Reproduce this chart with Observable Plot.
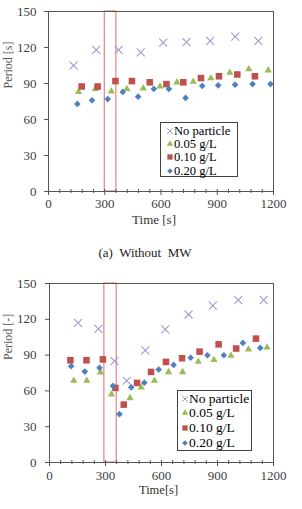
<!DOCTYPE html>
<html>
<head>
<meta charset="utf-8">
<script src="https://cdn.jsdelivr.net/npm/d3@7"></script>
<script src="https://cdn.jsdelivr.net/npm/@observablehq/plot@0.6"></script>
<style>
  body { margin: 0; background: #fff; }
  #fig { position: relative; width: 302px; height: 509px; font-family: "Liberation Serif", "Times New Roman", serif; }
  .panel { position: absolute; left: 0; }
  .caption { position: absolute; left: 0; width: 302px; font-size: 13px; line-height: 16px; color: #222; white-space: pre; }
  .legend { position: absolute; box-sizing: border-box; border: 1px solid #404040; background: #fff; }
  .legend .row { position: absolute; line-height: 12px; color: #000; white-space: nowrap; }
  .legend svg { position: absolute; overflow: visible; }
</style>
</head>
<body>
<div id="fig"></div>
<script>
// Series shared by both panels
const seriesNames = ["No particle", "0.05 g/L", "0.10 g/L", "0.20 g/L"];
const seriesColors = ["#9d9ad2", "#9bbb59", "#c0504d", "#4f81bd"];
const seriesSymbols = ["times", "triangle", "square", "diamond2"];

// Axes
const timeDomain = [0, 1200];
const periodDomain = [0, 150];
const timeTicks = [0, 300, 600, 900, 1200];
const timeMinorTicks = [60, 120, 180, 240, 360, 420, 480, 540, 660, 720, 780, 840, 960, 1020, 1080, 1140];
const periodTicks = [0, 30, 60, 90, 120, 150];

// (a) Without MW
const aTimeNone = [134, 255, 374, 492, 612, 736, 862, 996, 1119];
const aPeriodNone = [105, 118, 118, 116, 124, 124.5, 125.5, 129, 125.5];
const aTime005 = [160, 250, 335, 418, 505, 595, 685, 772, 866, 967, 1068, 1172];
const aPeriod005 = [83, 85.5, 83.5, 85.5, 86, 87.5, 91, 91.5, 94.5, 99, 102, 101];
const aTime010 = [177, 262, 357, 445, 540, 629, 719, 813, 909, 1007, 1101];
const aPeriod010 = [87.5, 87.5, 92, 92, 91, 89.5, 91, 94.5, 96, 97.5, 96];
const aTime020 = [154, 232, 316, 396, 478, 562, 642, 731, 820, 905, 995, 1088, 1184];
const aPeriod020 = [73, 76, 77, 83, 79, 85.5, 85.5, 78, 88, 88.5, 89, 89.5, 89.5];
const aWindow = [300, 362];

// (b) With MW
const bTimeNone = [153, 262, 348, 414, 513, 620, 745, 875, 1011, 1147];
const bPeriodNone = [117, 112, 85, 68.5, 94, 111.5, 124, 131.5, 136, 136];
const bTime005 = [130, 200, 273, 332, 431, 491, 562, 638, 713, 797, 881, 972, 1066, 1165];
const bPeriod005 = [68.5, 68.5, 75.5, 57, 54, 63, 68.5, 75.8, 75.8, 84.5, 86, 89.5, 94.7, 96.5];
const bTime010 = [112, 198, 286, 353, 398, 469, 544, 624, 710, 804, 906, 1000, 1106];
const bPeriod010 = [85.7, 85.7, 86.4, 62.5, 48.5, 66.7, 75.9, 84.3, 87.4, 92.9, 99, 95.5, 103.8];
const bTime020 = [116, 189, 268, 340, 375, 438, 508, 585, 665, 756, 846, 934, 1036, 1129];
const bPeriod020 = [80.7, 76.2, 79.3, 64.2, 40.5, 63, 66.9, 77.9, 81.8, 87.8, 89.9, 89.9, 100.2, 96];
const bWindow = [294, 360];

// marker radius per series (Plot symbol area = PI r^2)
const markerR = [3.7, 2.7, 3.7, 3.0];
// legend symbol areas
const legendSize = [22, 18, 28, 20];

const serif = "'Liberation Serif', 'Times New Roman', serif";
const axisColor = "#555";

function seriesMarks(times, periods) {
  return times.map((ts, i) => {
    const rows = d3.zip(ts, periods[i]);
    const isStroke = seriesSymbols[i] === "times";
    return Plot.dot(rows, {
      x: d => d[0], y: d => d[1],
      symbol: seriesSymbols[i], r: markerR[i],
      fill: isStroke ? "none" : seriesColors[i],
      stroke: isStroke ? seriesColors[i] : "none",
      strokeWidth: isStroke ? 1.1 : 0
    });
  });
}

function panel(o) {
  return Plot.plot({
    width: 302, height: o.height,
    marginTop: 11, marginRight: 29, marginLeft: o.marginLeft, marginBottom: o.marginBottom,
    x: {domain: timeDomain, label: null},
    y: {domain: periodDomain, label: null},
    style: {fontFamily: serif, fontSize: "13px", color: "#404040", background: "transparent", overflow: "visible"},
    marks: [
      Plot.rect([o.window], {x1: d => d[0], x2: d => d[1], y1: periodDomain[0], y2: periodDomain[1], fill: "none", stroke: "#e26b6b", strokeWidth: 1}),
      ...seriesMarks(o.times, o.periods),
      Plot.frame({stroke: axisColor, strokeWidth: 1}),
      Plot.axisX(timeMinorTicks, {tickSize: 4, dy: -2, tickFormat: () => "", stroke: axisColor, label: null}),
      Plot.axisX(timeTicks, {tickSize: 6, dy: -2, tickPadding: o.xTickPadding, tickFormat: d => String(d), stroke: axisColor, fill: "#404040", label: null}),
      Plot.axisY(periodTicks, {tickSize: 4, tickPadding: o.yTickPadding, tickFormat: d => String(d), stroke: axisColor, fill: "#404040", label: null}),
      Plot.text([o.xLabel], {frameAnchor: "bottom", text: d => d, dx: o.xLabelDx, dy: o.xLabelDy, fontSize: o.xLabelSize, fill: "#333"}),
      Plot.text([o.yLabel], {frameAnchor: "left", text: d => d, rotate: -90, dx: o.yLabelDx, dy: -13, fontSize: 12, fill: "#555"})
    ]
  });
}

function legend(parent, box) {
  const el = document.createElement("div");
  el.className = "legend";
  Object.assign(el.style, {left: box.left + "px", top: box.top + "px", width: box.width + "px", height: box.height + "px"});
  seriesNames.forEach((name, i) => {
    const cy = box.firstRow + i * box.rowGap;
    const svg = d3.create("svg").attr("width", 1).attr("height", 1)
      .style("left", box.markerX + "px").style("top", cy + "px");
    const sym = {times: d3.symbolTimes, triangle: d3.symbolTriangle, square: d3.symbolSquare, diamond2: d3.symbolDiamond2}[seriesSymbols[i]];
    const p = svg.append("path").attr("d", d3.symbol(sym, legendSize[i])());
    if (seriesSymbols[i] === "times") p.attr("fill", "none").attr("stroke", seriesColors[i]).attr("stroke-width", 1);
    else p.attr("fill", seriesColors[i]);
    el.appendChild(svg.node());
    const row = document.createElement("div");
    row.className = "row";
    row.textContent = name;
    Object.assign(row.style, {left: box.textX + "px", top: (cy - 6) + "px", fontSize: box.fontSize + "px"});
    el.appendChild(row);
  });
  parent.appendChild(el);
}

const fig = document.getElementById("fig");

const panelA = panel({
  height: 232, marginLeft: 48, marginBottom: 41,
  times: [aTimeNone, aTime005, aTime010, aTime020],
  periods: [aPeriodNone, aPeriod005, aPeriod010, aPeriod020],
  window: aWindow,
  xLabel: "Time [s]", yLabel: "Period [s]",
  xLabelDx: -7, xLabelDy: 32, xLabelSize: 13, yLabelDx: -40,
  xTickPadding: 3, yTickPadding: 8
});
panelA.classList.add("panel");
panelA.style.top = "0px";
fig.appendChild(panelA);
legend(fig, {left: 160, top: 122, width: 78, height: 55, firstRow: 7.5, rowGap: 13.4, markerX: 9, textX: 13, fontSize: 12.6});

const caption = document.createElement("div");
caption.className = "caption";
caption.style.top = "245px";
caption.style.textAlign = "center";
caption.style.paddingRight = "12px";
caption.style.boxSizing = "border-box";
caption.textContent = "(a)  Without  MW";
fig.appendChild(caption);

const panelB = panel({
  height: 237, marginLeft: 49, marginBottom: 47,
  times: [bTimeNone, bTime005, bTime010, bTime020],
  periods: [bPeriodNone, bPeriod005, bPeriod010, bPeriod020],
  window: bWindow,
  xLabel: "Time[s]", yLabel: "Period [-]",
  xLabelDx: -3, xLabelDy: 31, xLabelSize: 12.5, yLabelDx: -41,
  xTickPadding: 4, yTickPadding: 9
});
panelB.classList.add("panel");
panelB.style.top = "272px";
fig.appendChild(panelB);
legend(fig, {left: 177, top: 390, width: 75, height: 61, firstRow: 7.5, rowGap: 14.7, markerX: 7, textX: 11, fontSize: 13.5});
</script>
</body>
</html>
